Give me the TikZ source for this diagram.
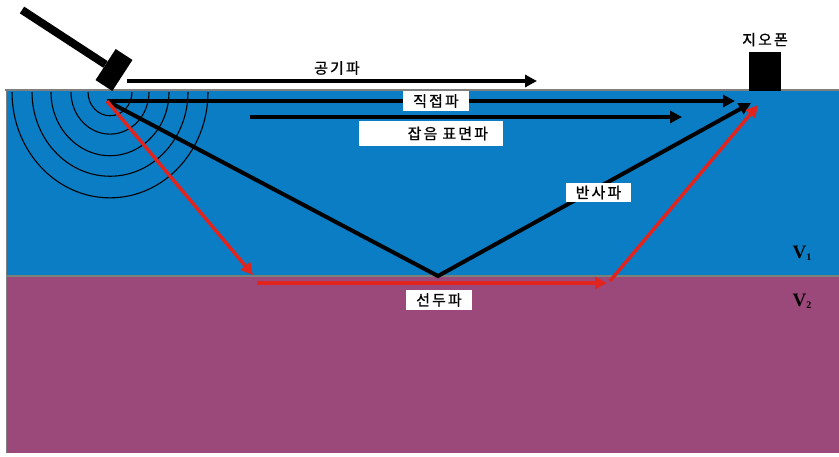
\documentclass[tikz,border=0pt]{standalone}
\usepackage{fontspec}
\newfontfamily\kr[LetterSpace=14, FakeBold=0.9]{Noto Sans CJK KR}
\newfontfamily\vfont{Liberation Serif}
\usetikzlibrary{arrows.meta}
\usetikzlibrary{positioning}

\definecolor{layerone}{RGB}{10,125,197}
\definecolor{layertwo}{RGB}{155,72,122}
\definecolor{raypath}{RGB}{226,36,30}
\definecolor{seam}{RGB}{120,130,120}

\tikzset{
  wave/.style={line width=4pt, -{Triangle[length=12pt,width=12pt]}},
  headwave/.style={wave, raypath, line width=3.5pt},
  krtext/.style={font=\kr\fontsize{15}{15}\selectfont, inner sep=0pt},
  tag/.style={krtext, fill=white, inner xsep=10pt, inner ysep=3pt},
  vlabel/.style={font=\vfont\bfseries\fontsize{19}{19}\selectfont, inner sep=0pt}
}

\begin{document}
\begin{tikzpicture}[x=1pt,y=-1pt]
  \useasboundingbox (0,0) rectangle (839,456);
  % ground
  \fill[layerone] (6,91) rectangle (839,276);
  \fill[layertwo] (6,276) rectangle (839,453);
  \draw[gray, line width=1.2pt] (5,90) -- (839,90);
  \draw[seam, line width=2.2pt] (6,276) -- (839,276);
  \draw[gray, line width=1pt] (6,91) -- (6,453);

  % wave fronts around the source
  \foreach \r in {22,39,59,78,98}
    \draw[line width=1.1pt] ({110-\r},92) arc[start angle=180, end angle=0, x radius=\r, y radius={1.08*\r}];

  \coordinate (src) at (107,101);
  \coordinate (bounce) at (438,276);
  \coordinate (crit) at (253,275);
  \coordinate (exit) at (610,281);

  % air, direct and surface waves
  \draw[wave] (127,81) -- (537,81);
  \draw[wave] (src) -- (735,101);
  \draw[wave] (250,117) -- (682,117);

  % reflected
  \draw[wave, line join=miter] (src) -- (bounce) -- (751,103);

  % head wave
  \draw[headwave] (src) -- (crit);
  \draw[headwave] (257,283) -- (607,283);
  \draw[headwave] (exit) -- (758,105);

  % labels
  \node[krtext] (air) at (337,68) {공기파};
  \node[tag] (direct) at (436,101) {직접파};
  \node[tag, minimum width=144pt, minimum height=25pt, text width=114pt, inner xsep=15pt, align=right] (noise) at (431,133.5) {잡음 표면파};
  \node[tag] (refl) at (598.5,192.5) {반사파};
  \node[tag] (refr) at (439,300) {선두파};

  \node[vlabel] (v1) at (802,253) {V\raisebox{-0.25ex}{\fontsize{10}{10}\selectfont 1}};
  \node[vlabel] (v2) at (802,301) {V\raisebox{-0.25ex}{\fontsize{10}{10}\selectfont 2}};

  % geophone
  \node[fill=black, minimum width=32pt, minimum height=39pt, inner sep=0pt, anchor=south] (geophone) at (765,91) {};
  \node[krtext, above=5pt of geophone] (geolabel) {지오폰};

  % hammer
  \node[fill=black, minimum width=20pt, minimum height=37pt, inner sep=0pt, rotate=-33] (hammer) at (114,70) {};
  \draw[line width=8pt] (22,10) -- (hammer);
\end{tikzpicture}
\end{document}
